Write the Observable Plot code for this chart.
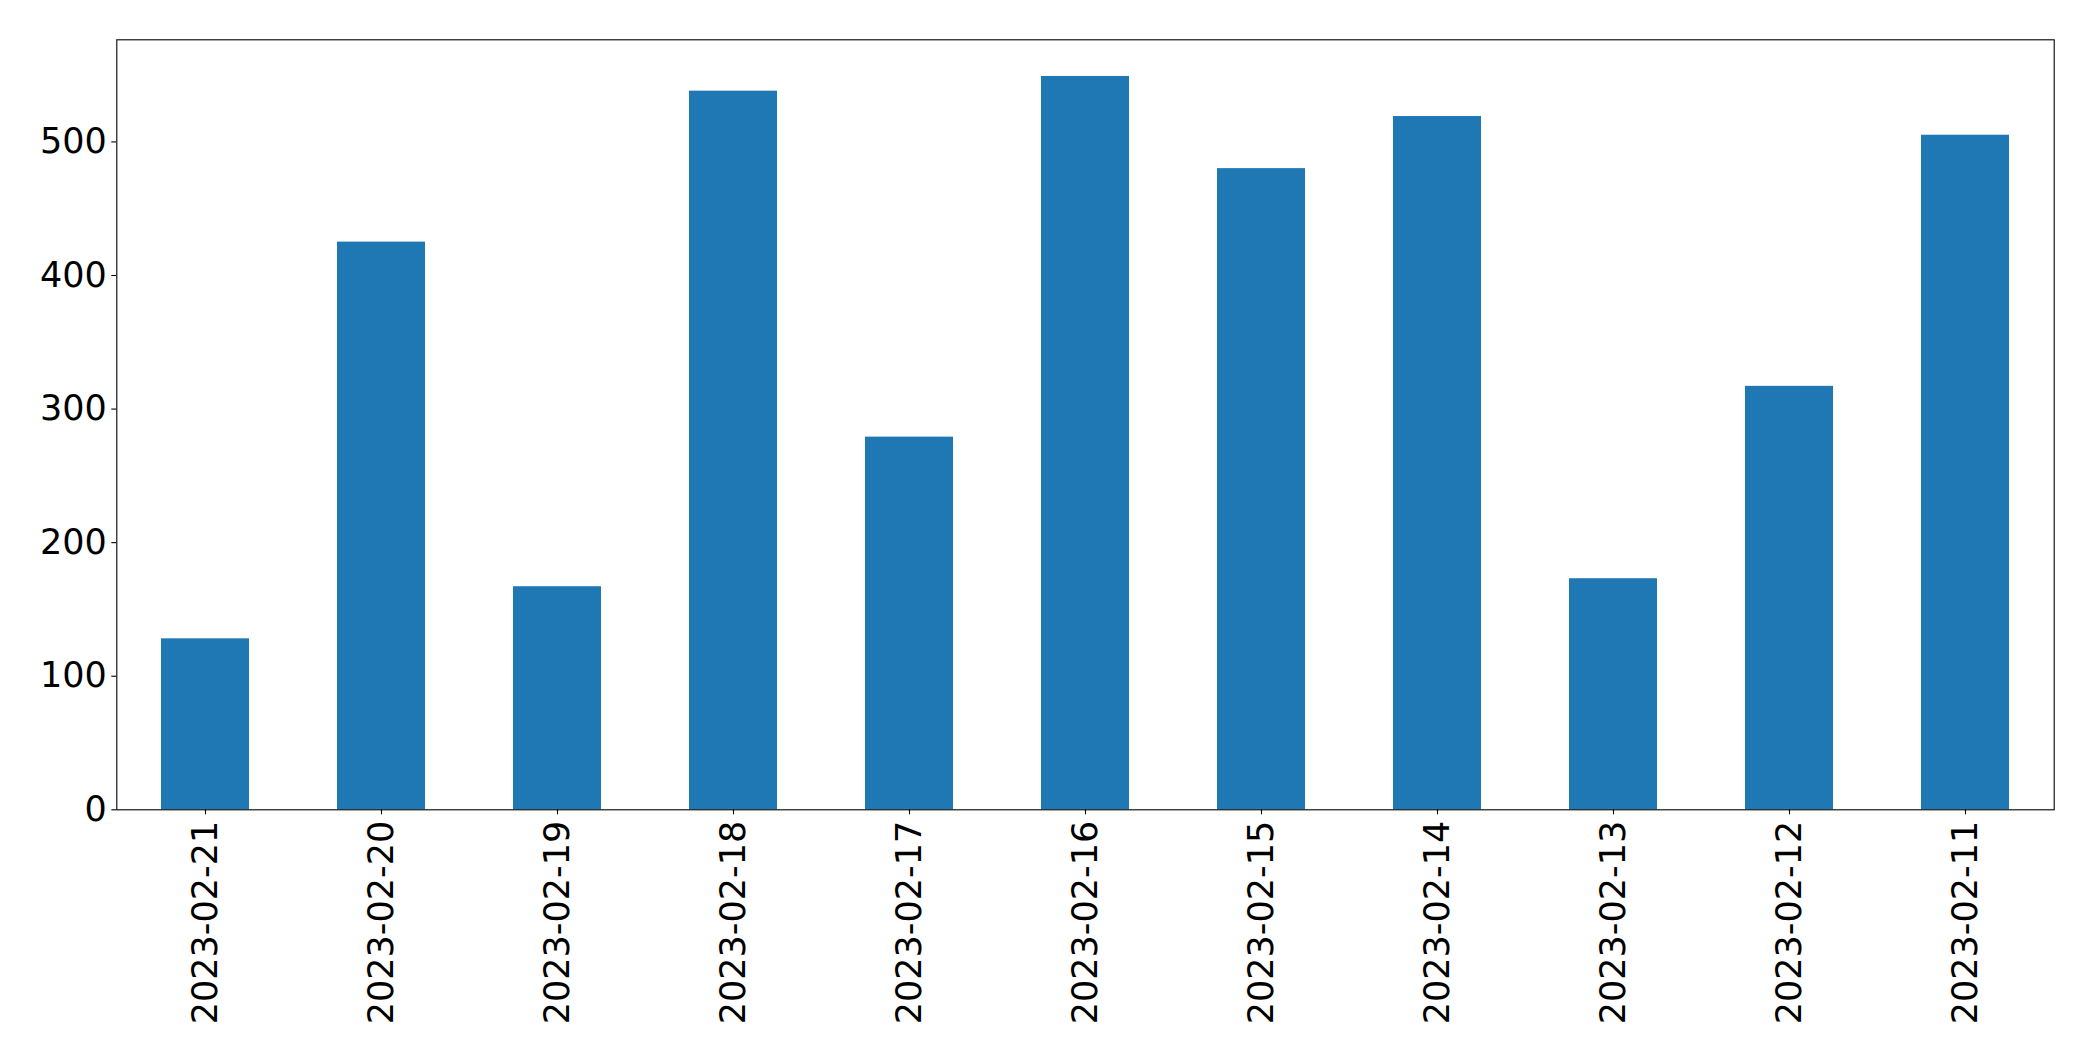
<!DOCTYPE html>
<html>
<head>
<meta charset="utf-8">
<script src="https://cdn.jsdelivr.net/npm/d3@7"></script>
<script src="https://cdn.jsdelivr.net/npm/@observablehq/plot@0.6"></script>
<style>
  html, body { margin: 0; padding: 0; background: #fff; }
  #chart svg { display: block; }
</style>
</head>
<body>
<div id="chart"></div>
<script>
const dates = ["2023-02-21","2023-02-20","2023-02-19","2023-02-18","2023-02-17","2023-02-16","2023-02-15","2023-02-14","2023-02-13","2023-02-12","2023-02-11"];
const counts = [128, 425, 167, 538, 279, 549, 480, 519, 173, 317, 505];
const yTicks = [0, 100, 200, 300, 400, 500];

const data = dates.map((d, i) => ({date: d, count: counts[i]}));
const font = "'DejaVu Sans', sans-serif";

const chart = Plot.plot({
  width: 2093,
  height: 1061,
  marginLeft: 116.3,
  marginRight: 39.3,
  marginTop: 39.3,
  marginBottom: 251.7,
  style: {fontFamily: font, fontSize: "35px", color: "black", background: "white"},
  x: {type: "band", domain: dates, paddingInner: 0.5, paddingOuter: 0.25, label: null},
  y: {domain: [0, d3.max(counts) * 1.05], label: null},
  marks: [
    Plot.barY(data, {x: "date", y: "count", fill: "#1f77b4"}),
    Plot.axisY({ticks: yTicks, tickSize: 5, tickPadding: 5, fontSize: 35, label: null, stroke: "black", strokeWidth: 1.1, fill: "black"}),
    Plot.axisX({tickRotate: -90, tickSize: 5, tickPadding: 6, fontSize: 35, label: null, stroke: "black", strokeWidth: 1.1, fill: "black"}),
    Plot.frame({stroke: "black", strokeWidth: 1.1})
  ]
});
document.getElementById("chart").appendChild(chart);
</script>
</body>
</html>
